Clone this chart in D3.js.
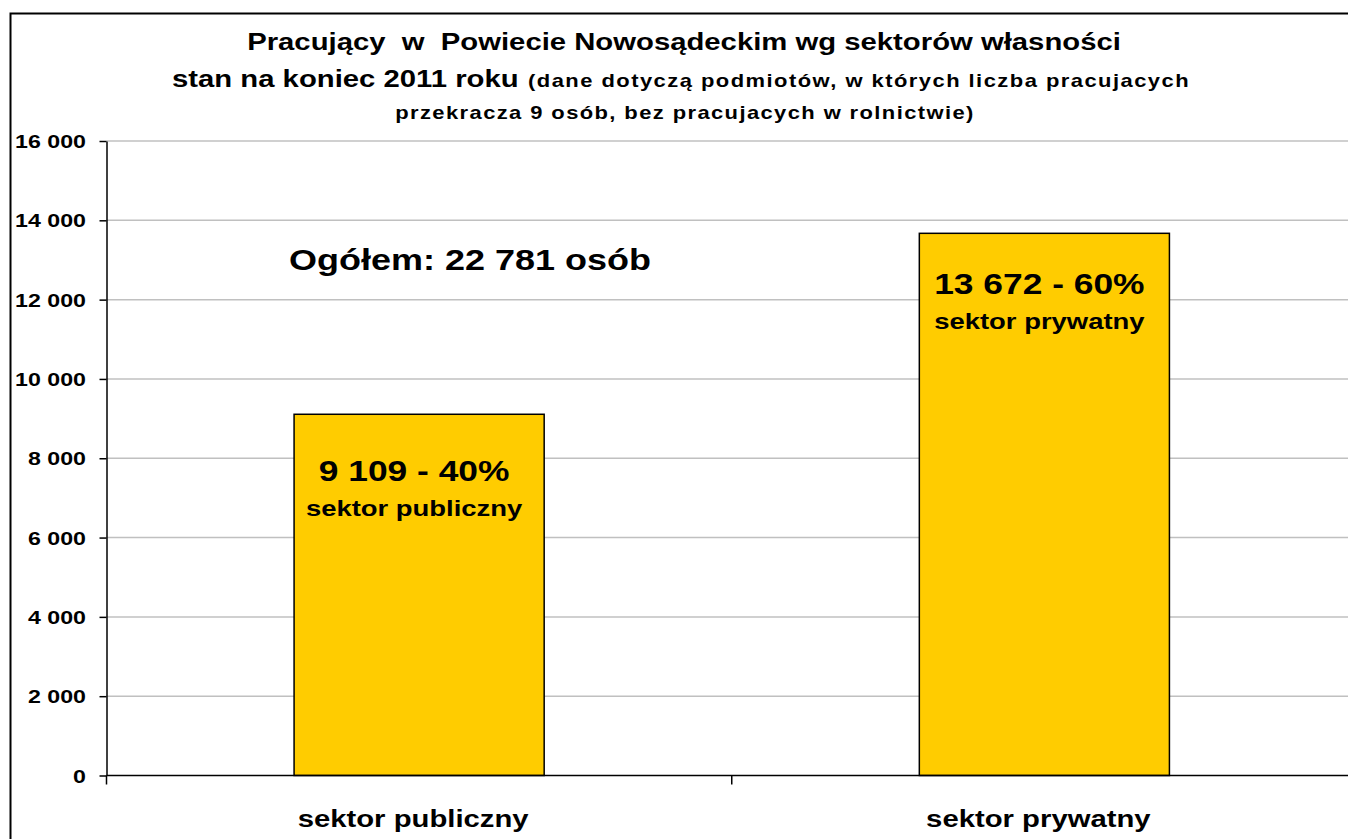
<!DOCTYPE html>
<html>
<head>
<meta charset="utf-8">
<script src="https://cdn.jsdelivr.net/npm/d3@7"></script>
<style>
  body { margin: 0; background: #fff; }
  svg text { font-family: "Liberation Sans", Arial, sans-serif; font-weight: bold; fill: #000; white-space: pre; }
</style>
</head>
<body>
<div id="chart"></div>
<script>
// data
var categories = ["sektor publiczny", "sektor prywatny"];
var values = [9109, 13672];
var shares = [40, 60];
var yTicks = [0, 2000, 4000, 6000, 8000, 10000, 12000, 14000, 16000];
var titleLine1 = "Pracujący  w  Powiecie Nowosądeckim wg sektorów własności";
var titleLine2 = "stan na koniec 2011 roku";
var noteLine2 = "(dane dotyczą podmiotów, w których liczba pracujacych";
var noteLine3 = "przekracza 9 osób, bez pracujacych w rolnictwie)";

var width = 1348,
    height = 839;

// glyphs in the source are stretched horizontally
var sx = 1.22;

var pl = d3.formatLocale({ decimal: ",", thousands: " ", grouping: [3], currency: ["", ""] });
var fmt = pl.format(",");

var svg = d3.select("#chart")
    .append("svg")
    .attr("width", width)
    .attr("height", height);

// chart area frame (runs off the right and bottom edge)
svg.append("rect")
    .attr("x", 10.5)
    .attr("y", 13.5)
    .attr("width", 1400)
    .attr("height", 900)
    .attr("fill", "#fff")
    .attr("stroke", "#000")
    .attr("stroke-width", 2);

var x = d3.scaleBand()
    .domain(categories)
    .range([106.5, 1357])
    .paddingInner(0.6)
    .paddingOuter(0.3);

var y = d3.scaleLinear()
    .domain([0, 16000])
    .range([775.5, 141]);

function label(x0, y0, txt, size, anchor) {
    return svg.append("text")
        .attr("transform", "translate(" + x0 + "," + y0 + ") scale(" + sx + ",1)")
        .attr("text-anchor", anchor || "middle")
        .attr("xml:space", "preserve")
        .style("font-size", size + "px")
        .text(txt);
}

// title
label(684, 50, titleLine1, 24);
label(172, 87, titleLine2, 24, "start");
label(528, 87, noteLine2, 18, "start").style("letter-spacing", "1.2px");
label(685, 119, noteLine3, 18).style("letter-spacing", "1.15px");

// gridlines
svg.append("g")
    .selectAll("line")
    .data(yTicks.filter(function (d) { return d > 0; }))
    .join("line")
    .attr("x1", 106.5)
    .attr("x2", 1360)
    .attr("y1", function (d) { return y(d); })
    .attr("y2", function (d) { return y(d); })
    .attr("stroke", "#c0c0c0")
    .attr("stroke-width", 1.5);

// bars
svg.append("g")
    .selectAll("rect")
    .data(values)
    .join("rect")
    .attr("x", function (d, i) { return x(categories[i]); })
    .attr("y", function (d) { return y(d); })
    .attr("width", x.bandwidth())
    .attr("height", function (d) { return y(0) - y(d); })
    .attr("fill", "#ffcc00")
    .attr("stroke", "#000")
    .attr("stroke-width", 1.5);

// y axis
var yAxis = svg.append("g")
    .attr("transform", "translate(106.5,0)")
    .call(d3.axisLeft(y).tickValues(yTicks).tickSize(7).tickSizeOuter(0).tickFormat(fmt));
yAxis.select(".domain").attr("stroke", "#000").attr("stroke-width", 1.5);
yAxis.selectAll(".tick line").attr("stroke", "#000").attr("stroke-width", 1.5);
yAxis.selectAll(".tick text")
    .attr("x", 0)
    .attr("dy", "0.35em")
    .attr("transform", "translate(-20.5,0) scale(" + sx + ",1)")
    .style("font-size", "19px");

// x axis
svg.append("line")
    .attr("x1", 106.5)
    .attr("x2", 1360)
    .attr("y1", y(0))
    .attr("y2", y(0))
    .attr("stroke", "#000")
    .attr("stroke-width", 1.5);

var bounds = categories.map(function (c) { return x(c) - x.step() * x.paddingOuter(); });
svg.append("g")
    .selectAll("line")
    .data(bounds)
    .join("line")
    .attr("x1", function (d) { return d; })
    .attr("x2", function (d) { return d; })
    .attr("y1", y(0))
    .attr("y2", y(0) + 9)
    .attr("stroke", "#000")
    .attr("stroke-width", 1.5);

categories.forEach(function (c) {
    label(x(c) + x.bandwidth() / 2 - 6, 827, c, 24);
});

// data labels inside the bars
var valueOffset = [67, 61];
values.forEach(function (v, i) {
    var cx = x(categories[i]) + x.bandwidth() / 2 - 5;
    var top = y(v) + valueOffset[i];
    label(cx, top, fmt(v) + " - " + shares[i] + "%", 29);
    label(cx, top + 35, categories[i], 22.5);
});

// total
label(470, 270, "Ogółem: " + fmt(d3.sum(values)) + " osób", 29.5);
</script>
</body>
</html>
